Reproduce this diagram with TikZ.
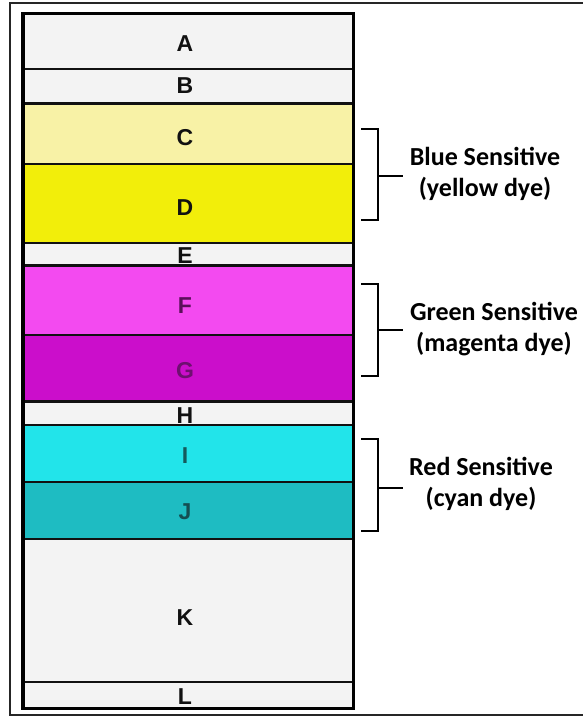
\documentclass[tikz,border=0pt]{standalone}
\usepackage{fontspec}
\newfontfamily\lblfont{Liberation Sans}
\newfontfamily\notefont{Carlito}
\definecolor{paper}{HTML}{F3F3F3}
\definecolor{ylight}{HTML}{F8F2A6}
\definecolor{ydark}{HTML}{F2EE0A}
\definecolor{mlight}{HTML}{F34AF0}
\definecolor{mdark}{HTML}{CB0ECB}
\definecolor{clight}{HTML}{22E4EA}
\definecolor{cdark}{HTML}{1EBCC2}
\definecolor{lineblk}{HTML}{111111}
\definecolor{txtF}{HTML}{5A105A}
\definecolor{txtG}{HTML}{6E1070}
\definecolor{txtI}{HTML}{145A5C}
\definecolor{txtJ}{HTML}{144E52}
\tikzset{
  layerlbl/.style={font=\lblfont\bfseries\fontsize{23}{23}\selectfont, anchor=base, inner sep=0pt, text=lineblk},
  note/.style={font=\notefont\bfseries\fontsize{26}{26}\selectfont, anchor=base, inner sep=0pt, text=black},
  bracketline/.style={draw=black, line width=2pt},
  sepline/.style={draw=lineblk, line width=2.6pt},
}
\begin{document}
\begin{tikzpicture}[x=1pt,y=-1pt]
\useasboundingbox (0,0) rectangle (582,716);
\fill[white] (0,0) rectangle (582,716);
% outer frame
\draw[line width=2pt, draw=black!85] (9.5,2.5) rectangle (600,714.5);
% layers
\fill[paper]  (23,13.5) rectangle (353.5,103.5);
\fill[ylight] (23,103.5) rectangle (353.5,164);
\fill[ydark]  (23,164) rectangle (353.5,243);
\fill[paper]  (23,243) rectangle (353.5,265.5);
\fill[mlight] (23,265.5) rectangle (353.5,335);
\fill[mdark]  (23,335) rectangle (353.5,401.5);
\fill[paper]  (23,401.5) rectangle (353.5,425);
\fill[clight] (23,425) rectangle (353.5,482);
\fill[cdark]  (23,482) rectangle (353.5,539);
\fill[paper]  (23,539) rectangle (353.5,708.5);
% separators
\foreach \yy in {69,103.5,164,243,265.5,335,401.5,425,482,539,682}
  \draw[sepline] (23,\yy) -- (353.5,\yy);
\draw[draw=black, line width=3.6pt] (23,13.5) rectangle (353.5,708.5);
% layer letters
\node[layerlbl] (lA) at (185,51) {A};
\node[layerlbl] (lB) at (185,93.5) {B};
\node[layerlbl] (lC) at (185,145.5) {C};
\node[layerlbl] (lD) at (185,215.5) {D};
\node[layerlbl] (lE) at (185,263.5) {E};
\node[layerlbl, text=txtF] (lF) at (185,313.5) {F};
\node[layerlbl, text=txtG] (lG) at (185,378) {G};
\node[layerlbl] (lH) at (185,423.5) {H};
\node[layerlbl, text=txtI] (lI) at (185,463.5) {I};
\node[layerlbl, text=txtJ] (lJ) at (185,519.5) {J};
\node[layerlbl] (lK) at (185,625.5) {K};
\node[layerlbl] (lL) at (185,704.5) {L};
% brackets
\coordinate (b1t) at (361,129); \coordinate (b1b) at (361,220);
\coordinate (b1s) at (378,176); \coordinate (b1e) at (403,176);
\draw[bracketline] (b1t) -- (378,129) -- (378,220) -- (b1b);
\draw[bracketline] (b1s) -- (b1e);
\coordinate (b2t) at (361,284); \coordinate (b2b) at (361,376);
\coordinate (b2s) at (378,330); \coordinate (b2e) at (403,330);
\draw[bracketline] (b2t) -- (378,284) -- (378,376) -- (b2b);
\draw[bracketline] (b2s) -- (b2e);
\coordinate (b3t) at (361,439); \coordinate (b3b) at (361,531);
\coordinate (b3s) at (378,488); \coordinate (b3e) at (403,488);
\draw[bracketline] (b3t) -- (378,439) -- (378,531) -- (b3b);
\draw[bracketline] (b3s) -- (b3e);
% notes
\node[note] (n1a) at (485,165) {Blue Sensitive};
\node[note] (n1b) at (485,196) {(yellow dye)};
\node[note] (n2a) at (494,320) {Green Sensitive};
\node[note] (n2b) at (494,351) {(magenta dye)};
\node[note] (n3a) at (481,475) {Red Sensitive};
\node[note] (n3b) at (481,506) {(cyan dye)};
\end{tikzpicture}
\end{document}
